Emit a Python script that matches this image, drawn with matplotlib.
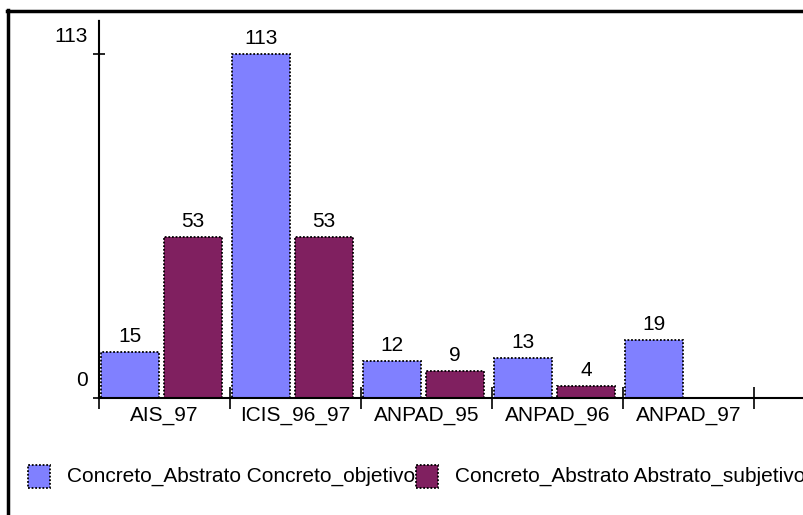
import numpy as np
import matplotlib
matplotlib.use("Agg")
from matplotlib import pyplot as plt
from matplotlib.patches import Rectangle
from matplotlib.lines import Line2D
from matplotlib import transforms

categorias = ["AIS_97", "ICIS_96_97", "ANPAD_95", "ANPAD_96", "ANPAD_97"]
concreto_objetivo = [15, 113, 12, 13, 19]
abstrato_subjetivo = [53, 53, 9, 4, 0]
serie_nomes = ["Concreto_Abstrato Concreto_objetivo", "Concreto_Abstrato Abstrato_subjetivo"]
cores = ["#8080FF", "#802060"]

plt.rcParams['font.family'] = ['Liberation Sans', 'DejaVu Sans']
FS = 15
pontilhado = (0, (1, 1))

fig = plt.figure(figsize=(8.04, 5.15), dpi=100)
W, H = 804, 515
# eixo: esquerda x=99, base y=398, topo y=20 (pixels)
ax = fig.add_axes([99 / W, (H - 398) / H, (W - 99) / W, (398 - 20) / H])

x = np.arange(len(categorias))
larg = 0.443
b1 = ax.bar(x - 0.263, concreto_objetivo, larg, color=cores[0], edgecolor='black',
            linewidth=1.3, linestyle=pontilhado)
b2 = ax.bar(x + 0.218, abstrato_subjetivo, larg, color=cores[1], edgecolor='black',
            linewidth=1.3, linestyle=pontilhado)

off = transforms.offset_copy(ax.transData, fig=fig, x=0, y=6, units='dots')
for barras, vals in [(b1, concreto_objetivo), (b2, abstrato_subjetivo)]:
    for b, v in zip(barras, vals):
        if v == 0:
            continue
        ax.text(b.get_x() + b.get_width() / 2, v, str(v), ha='center', va='bottom',
                fontsize=FS, transform=off)

ax.set_xlim(-0.5, -0.5 + (W - 99) / 131.0)
ax.set_ylim(0, 113 * 378 / 344)

# ticks nas fronteiras das categorias
ax.set_xticks(np.arange(len(categorias) + 1) - 0.5)
ax.set_xticklabels([])
ax.tick_params(axis='x', direction='inout', length=16, width=1.2)
offx = transforms.offset_copy(ax.transData, fig=fig, x=0, y=-8, units='dots')
for i, c in enumerate(categorias):
    ax.text(i, 0, c, ha='center', va='top', fontsize=FS, transform=offx)

ax.set_yticks([0, 113])
ax.set_yticklabels([])
ax.tick_params(axis='y', direction='inout', length=8, width=1.2)
offy = transforms.offset_copy(ax.transData, fig=fig, x=-11, y=18, units='dots')
for v in [0, 113]:
    ax.text(-0.5, v, str(v), ha='right', va='center', fontsize=FS, transform=offy)

for s in ['top', 'right']:
    ax.spines[s].set_visible(False)
for s in ['left', 'bottom']:
    ax.spines[s].set_linestyle(pontilhado)
    ax.spines[s].set_linewidth(1.5)

# legenda
for i, (nome, cor) in enumerate(zip(serie_nomes, cores)):
    x0 = 28 if i == 0 else 416
    fig.text((x0 + 39) / W, (H - 476) / H, nome, fontsize=FS, va='center', ha='left', zorder=1)
    fig.patches.append(Rectangle((x0 / W, (H - 488) / H), 22 / W, 23 / H, transform=fig.transFigure,
                                 facecolor=cor, edgecolor='black', linewidth=1.3,
                                 linestyle=pontilhado, zorder=5))

# moldura
fig.lines.append(Line2D([7 / W, 1.0], [(H - 11) / H] * 2, transform=fig.transFigure,
                        color='black', linewidth=2.5))
fig.lines.append(Line2D([8 / W] * 2, [0, (H - 10) / H], transform=fig.transFigure,
                        color='black', linewidth=2.5))

fig.savefig("out.png", dpi=100)
